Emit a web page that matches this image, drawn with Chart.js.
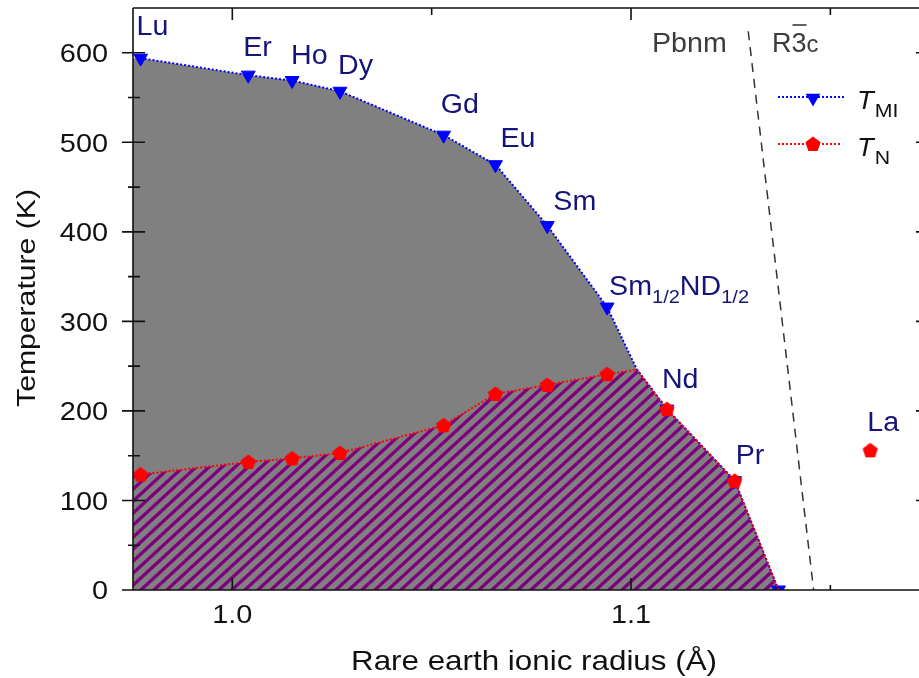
<!DOCTYPE html>
<html lang="en">
<head>
    <meta charset="UTF-8">
    <title>Rare earth nickelate phase diagram</title>
    <script src="https://cdn.jsdelivr.net/npm/chart.js@4"></script>
    <style>
        html, body { margin: 0; padding: 0; background: #fff; overflow: hidden; }
        #wrap { width: 919px; height: 678px; }
        canvas { display: block; }
    </style>
</head>
<body>
    <div id="wrap"><canvas id="phaseChart" width="919" height="678"></canvas></div>
    <script>
        // values
        const names = ['Lu', 'Er', 'Ho', 'Dy', 'Gd', 'Eu', 'Sm', 'Sm_{1/2}ND_{1/2}', 'Nd', 'Pr'];
        const ionicRadius = [0.977, 1.004, 1.015, 1.027, 1.053, 1.066, 1.079, 1.094, 1.109, 1.126];
        const tMI = [594, 575, 569, 557, 508, 475, 407, 316, 202, 122];
        const tN = [129, 143, 147, 153, 184, 219, 229, 241, 202, 122];
        // where the two curves meet (no marker) and where they end at 0 K
        const meetRadius = 1.1015;
        const meetT = 246;
        const zeroRadius = 1.137;
        // LaNiO3
        const laName = 'La';
        const laRadius = 1.16;
        const laTN = 156;
        // Pbnm / R-3c boundary
        const boundaryRadius = [1.1294, 1.1458];
        const boundaryT = [624, 0];

        const yTicks = [0, 100, 200, 300, 400, 500, 600];
        const yMinorTicks = [50, 150, 250, 350, 450, 550];
        const xTicks = [1.0, 1.1];
        const xMinorTicks = [1.05, 1.15];

        const X_MIN = 0.97509, X_MAX = 1.17223;
        const Y_MIN = 0, Y_MAX = 650;

        const FONT = '"Liberation Sans", Arial, Helvetica, sans-serif';
        const BLUE = '#0000ff';
        const RED = '#ff0000';
        const NAVY = '#14147a';
        const GREY_TEXT = '#3c3c3c';

        // label placement relative to the marker (px)
        const labelOffsets = [[-4, -23], [-5, -19], [-1, -17], [-2, -17], [-3, -22], [5, -18], [6, -16], [2, -12], [-5, -21], [1, -17]];
        const laOffset = [-3, -19];

        function pentagonPath(ctx, x, y, r) {
            ctx.beginPath();
            for (let i = 0; i < 5; i++) {
                const a = -Math.PI / 2 + i * 2 * Math.PI / 5;
                const px = x + r * Math.cos(a), py = y + r * Math.sin(a);
                if (i === 0) ctx.moveTo(px, py); else ctx.lineTo(px, py);
            }
            ctx.closePath();
        }

        function trianglePath(ctx, x, y, r) {
            // pointing down
            ctx.beginPath();
            ctx.moveTo(x, y + r);
            ctx.lineTo(x - r * 0.866, y - r / 2);
            ctx.lineTo(x + r * 0.866, y - r / 2);
            ctx.closePath();
        }

        // pentagon marker as an image point style
        const pentagon = document.createElement('canvas');
        pentagon.width = 18;
        pentagon.height = 18;
        (function () {
            const c = pentagon.getContext('2d');
            c.fillStyle = RED;
            pentagonPath(c, 9, 9.6, 8);
            c.fill();
        })();

        // purple diagonal hatching on grey
        function makeHatch() {
            const w = 13, h = 12;
            const tile = document.createElement('canvas');
            tile.width = w;
            tile.height = h;
            const c = tile.getContext('2d');
            c.fillStyle = '#808080';
            c.fillRect(0, 0, w, h);
            c.strokeStyle = '#7f007f';
            c.lineWidth = 3.4;
            c.beginPath();
            for (let k = -1; k <= 2; k++) {
                c.moveTo(k * w + w / h * 2, -2);
                c.lineTo(k * w - w - w / h * 2, h + 2);
            }
            c.stroke();
            return document.getElementById('phaseChart').getContext('2d').createPattern(tile, 'repeat');
        }

        // marked points along a curve, including the meeting point
        function curve(values) {
            const pts = [];
            const nd = names.indexOf('Nd');
            ionicRadius.forEach((r, i) => {
                if (i === nd) pts.push({ x: meetRadius, y: meetT, mark: false });
                pts.push({ x: r, y: values[i], mark: true });
            });
            return pts;
        }
        const miPoints = curve(tMI).concat([{ x: zeroRadius, y: 0, mark: true }]);
        const nPoints = curve(tN).concat([{ x: zeroRadius, y: 0, mark: false }]);
        // the shaded areas run on to the left frame
        const miArea = [{ x: X_MIN, y: tMI[0] }].concat(miPoints);
        const nArea = [{ x: X_MIN, y: tN[0] }].concat(nPoints);

        function drawText(ctx, str, x, y, font, color, sx, align) {
            ctx.save();
            ctx.font = font;
            ctx.fillStyle = color;
            ctx.textBaseline = 'alphabetic';
            ctx.textAlign = 'left';
            const w = ctx.measureText(str).width * sx;
            let left = x;
            if (align === 'center') left = x - w / 2;
            else if (align === 'right') left = x - w;
            ctx.translate(left, y);
            ctx.scale(sx, 1);
            ctx.fillText(str, 0, 0);
            ctx.restore();
            return w;
        }

        // text with _{...} subscripts
        function drawRich(ctx, str, x, y, size, color, sx) {
            const parts = str.split(/(_\{[^}]*\})/).filter(p => p.length);
            let cx = x;
            parts.forEach(p => {
                if (p.startsWith('_{')) {
                    cx += drawText(ctx, p.slice(2, -1), cx, y + 8, (size * 0.7) + 'px ' + FONT, color, sx);
                } else {
                    cx += drawText(ctx, p, cx, y, size + 'px ' + FONT, color, sx);
                }
            });
        }

        const framePlugin = {
            id: 'framePlugin',
            afterDatasetsDraw(chart) {
                const ctx = chart.ctx;
                const a = chart.chartArea;
                const x = chart.scales.x, y = chart.scales.y;
                ctx.save();
                ctx.strokeStyle = '#111';
                ctx.lineWidth = 1.6;
                ctx.beginPath();
                ctx.moveTo(a.left, a.top); ctx.lineTo(a.right, a.top);
                ctx.moveTo(a.left, a.top); ctx.lineTo(a.left, a.bottom); ctx.lineTo(a.right, a.bottom);
                // y ticks: crossing the left axis, short stubs on the right edge
                yTicks.forEach(v => {
                    const py = y.getPixelForValue(v);
                    ctx.moveTo(a.left - 11, py); ctx.lineTo(a.left + 12, py);
                    if (v > 0) { ctx.moveTo(a.right - 3, py); ctx.lineTo(a.right, py); }
                });
                yMinorTicks.forEach(v => {
                    const py = y.getPixelForValue(v);
                    ctx.moveTo(a.left - 5, py); ctx.lineTo(a.left + 7, py);
                });
                // x ticks point inwards, top and bottom
                xTicks.forEach(v => {
                    const px = x.getPixelForValue(v);
                    ctx.moveTo(px, a.top); ctx.lineTo(px, a.top + 12);
                    ctx.moveTo(px, a.bottom); ctx.lineTo(px, a.bottom - 12);
                });
                xMinorTicks.forEach(v => {
                    const px = x.getPixelForValue(v);
                    ctx.moveTo(px, a.top); ctx.lineTo(px, a.top + 7);
                    ctx.moveTo(px, a.bottom); ctx.lineTo(px, a.bottom - 5);
                });
                ctx.stroke();

                // tick labels
                yTicks.forEach(v => {
                    drawText(ctx, String(v), a.left - 25, y.getPixelForValue(v) + 9.3, '26px ' + FONT, '#111', 1.11, 'right');
                });
                xTicks.forEach(v => {
                    drawText(ctx, v.toFixed(1), x.getPixelForValue(v), a.bottom + 33, '26px ' + FONT, '#111', 1.11, 'center');
                });

                // axis titles
                drawText(ctx, 'Rare earth ionic radius (\u00c5)', 534, 670, '28px ' + FONT, '#111', 1.12, 'center');
                ctx.save();
                ctx.translate(35, 298);
                ctx.rotate(-Math.PI / 2);
                drawText(ctx, 'Temperature (K)', 0, 0, '26px ' + FONT, '#111', 1.16, 'center');
                ctx.restore();

                // element labels
                names.forEach((n, i) => {
                    const px = x.getPixelForValue(ionicRadius[i]) + labelOffsets[i][0];
                    const py = y.getPixelForValue(tMI[i]) + labelOffsets[i][1];
                    drawRich(ctx, n, px, py, 27, NAVY, 1.06);
                });
                drawText(ctx, laName, x.getPixelForValue(laRadius) + laOffset[0], y.getPixelForValue(laTN) + laOffset[1], '27px ' + FONT, NAVY, 1.06);

                // space groups
                drawText(ctx, 'Pbnm', 652, 52, '27px ' + FONT, GREY_TEXT, 1.06);
                let rx = 772;
                rx += drawText(ctx, 'R', rx, 52, '27px ' + FONT, GREY_TEXT, 1.0);
                const w3 = drawText(ctx, '3', rx, 52, '27px ' + FONT, GREY_TEXT, 1.0);
                ctx.strokeStyle = GREY_TEXT;
                ctx.lineWidth = 1.6;
                ctx.beginPath();
                ctx.moveTo(rx + 1, 25); ctx.lineTo(rx + w3, 25);
                ctx.stroke();
                drawText(ctx, 'c', rx + w3, 52, '24px ' + FONT, GREY_TEXT, 1.0);

                // legend
                const rows = [
                    { y: 97, color: BLUE, sub: 'MI', end: 846 },
                    { y: 144, color: RED, sub: 'N', end: 842 }
                ];
                rows.forEach((r, i) => {
                    ctx.save();
                    ctx.strokeStyle = r.color;
                    ctx.lineWidth = 2;
                    ctx.setLineDash([2, 2]);
                    ctx.beginPath();
                    ctx.moveTo(778, r.y); ctx.lineTo(r.end, r.y);
                    ctx.stroke();
                    ctx.restore();
                    ctx.fillStyle = r.color;
                    if (i === 0) { trianglePath(ctx, 813, r.y + 1, 8.5); ctx.fill(); }
                    else { ctx.drawImage(pentagon, 813 - 9, r.y - 9); }
                    const tw = drawText(ctx, 'T', 857, r.y + 12, 'italic 26px ' + FONT, '#111', 1.05);
                    drawText(ctx, r.sub, 857 + tw + 1, r.y + 20, '19px ' + FONT, '#111', 1.12);
                });
                ctx.restore();
            }
        };

        document.addEventListener('DOMContentLoaded', function () {
            const ctx = document.getElementById('phaseChart').getContext('2d');
            const hatch = makeHatch();
            const markRadius = c => (c.raw && c.raw.mark ? 8 : 0);

            new Chart(ctx, {
                type: 'scatter',
                data: {
                    datasets: [
                        {
                            label: 'T_N',
                            data: nPoints,
                            showLine: true,
                            fill: false,
                            borderColor: RED,
                            borderWidth: 2,
                            borderDash: [2, 2],
                            pointStyle: pentagon,
                            pointRadius: markRadius
                        },
                        {
                            label: 'T_MI',
                            data: miPoints,
                            showLine: true,
                            fill: false,
                            borderColor: BLUE,
                            borderWidth: 2,
                            borderDash: [2, 2],
                            pointStyle: 'triangle',
                            pointRotation: 180,
                            pointBackgroundColor: BLUE,
                            pointBorderColor: BLUE,
                            pointBorderWidth: 1,
                            pointRadius: markRadius
                        },
                        {
                            label: 'La',
                            data: [{ x: laRadius, y: laTN }],
                            showLine: false,
                            pointStyle: pentagon,
                            pointRadius: 8
                        },
                        {
                            label: 'Pbnm / R-3c',
                            data: boundaryRadius.map((r, i) => ({ x: r, y: boundaryT[i] })),
                            showLine: true,
                            fill: false,
                            borderColor: '#333',
                            borderWidth: 1.5,
                            borderDash: [9, 7],
                            pointRadius: 0
                        },
                        {
                            label: 'T_N area',
                            data: nArea,
                            showLine: true,
                            fill: 'origin',
                            backgroundColor: hatch,
                            borderWidth: 0,
                            borderColor: 'rgba(0,0,0,0)',
                            pointRadius: 0
                        },
                        {
                            label: 'T_MI area',
                            data: miArea,
                            showLine: true,
                            fill: 'origin',
                            backgroundColor: '#808080',
                            borderWidth: 0,
                            borderColor: 'rgba(0,0,0,0)',
                            pointRadius: 0
                        }
                    ]
                },
                options: {
                    responsive: false,
                    animation: false,
                    devicePixelRatio: 1,
                    events: [],
                    layout: { autoPadding: false, padding: { top: 8, left: 0, right: 0, bottom: 0 } },
                    plugins: {
                        legend: { display: false },
                        tooltip: { enabled: false },
                        filler: { drawTime: 'beforeDatasetsDraw' }
                    },
                    scales: {
                        x: {
                            type: 'linear',
                            min: X_MIN,
                            max: X_MAX,
                            grid: { display: false },
                            border: { display: false },
                            ticks: { display: false },
                            afterFit: s => { s.height = 88; }
                        },
                        y: {
                            type: 'linear',
                            min: Y_MIN,
                            max: Y_MAX,
                            grid: { display: false },
                            border: { display: false },
                            ticks: { display: false },
                            afterFit: s => { s.width = 133; }
                        }
                    }
                },
                plugins: [framePlugin]
            });
        });
    </script>
</body>
</html>
